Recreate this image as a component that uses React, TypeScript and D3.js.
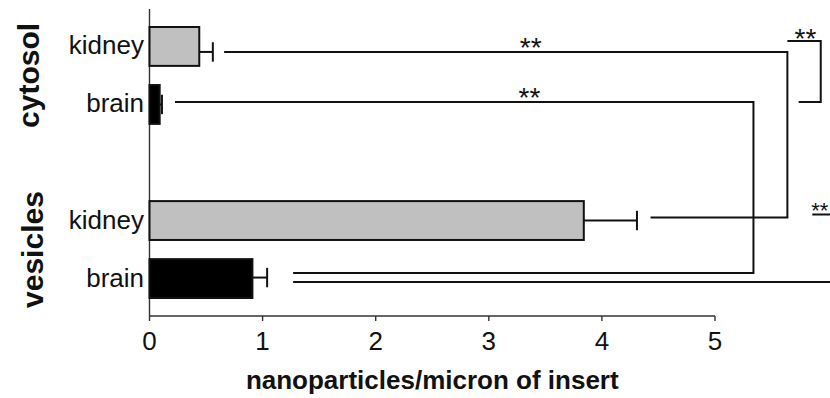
import * as d3 from 'd3';

// Data
const barKeys = ['cytosol-kidney', 'cytosol-brain', 'gap', 'vesicles-kidney', 'vesicles-brain'];
const barTissue = ['kidney', 'brain', 'kidney', 'brain'];
const barGroup = ['cytosol', 'cytosol', 'vesicles', 'vesicles'];
const means = [0.44, 0.09, 3.84, 0.91];
const errors = [0.12, 0.02, 0.47, 0.13];
const groups = ['cytosol', 'vesicles'];
const tickValues = [0, 1, 2, 3, 4, 5];
const xTitle = 'nanoparticles/micron of insert';

// significance connectors, x in axis units
const links = [
  { from: 'cytosol-kidney', to: 'vesicles-kidney', x0: 0.66, x1: 4.43, xr: 5.64, star: 3.37 },
  { from: 'cytosol-brain', to: 'vesicles-brain', x0: 0.225, x1: 1.27, xr: 5.34, star: 3.36 },
];

const W = 830;
const H = 398;
const FONT = '"Liberation Sans", Arial, Helvetica, sans-serif';
const INK = '#111';

export default function App() {
  const x = d3.scaleLinear().domain([0, 5]).range([149.5, 715]);
  const y = d3.scaleBand<string>().domain(barKeys).range([27, 298]).paddingInner(0.33).paddingOuter(0);
  const bh = y.bandwidth();
  const realKeys = barKeys.filter(k => k !== 'gap');
  const cy = (k: string) => (y(k) as number) + bh / 2;

  // small vertical offsets of the connector lines from bar centres
  const lineOff: Record<string, number> = {
    'cytosol-kidney': 5.5,
    'cytosol-brain': -2.5,
    'vesicles-kidney': -3,
    'vesicles-brain': -5.5,
  };
  const errOff = [5.5, 0, 0, -1];
  const ly = (k: string) => cy(k) + lineOff[k];

  const axisY = 316;
  const xEnd = 6.3;

  const bracketTop = ly('cytosol-kidney') - 11;
  const bracketBottom = ly('cytosol-brain');
  const lowTop = ly('vesicles-kidney') - 3;
  const longY = cy('vesicles-brain') + 3.5;

  return (
    <svg width={W} height={H} style={{ position: 'absolute', left: 0, top: 0, background: '#fff' }} fontFamily={FONT}>
      {/* axes */}
      <line x1={x(0)} x2={x(0)} y1={9} y2={axisY} stroke="#333" strokeWidth={1.4} />
      <line x1={x(0)} x2={x(5)} y1={axisY} y2={axisY} stroke="#333" strokeWidth={1.4} />
      {tickValues.map(t => (
        <g key={t}>
          <line x1={x(t)} x2={x(t)} y1={axisY} y2={axisY + 5} stroke="#333" strokeWidth={1.4} />
          <text x={x(t)} y={350} textAnchor="middle" fontSize={26} fill={INK}>{t}</text>
        </g>
      ))}
      <text x={(x(0) + x(5)) / 2} y={389} textAnchor="middle" fontSize={26} fontWeight="bold" fill={INK}>
        {xTitle}
      </text>

      {/* bars */}
      {realKeys.map((k, i) => {
        const kidney = barTissue[i] === 'kidney';
        const top = y(k) as number;
        const ey = cy(k) + errOff[i];
        const xe = x(means[i] + errors[i]);
        return (
          <g key={k}>
            <line x1={x(means[i])} x2={xe} y1={ey} y2={ey} stroke={INK} strokeWidth={2} />
            <line x1={xe} x2={xe} y1={ey - bh / 4} y2={ey + bh / 4} stroke={INK} strokeWidth={2} />
            <rect
              x={x(0)}
              y={top}
              width={x(means[i]) - x(0)}
              height={bh}
              fill={kidney ? '#c0c0c0' : '#000'}
              stroke={INK}
              strokeWidth={2}
            />
            <text x={144} y={cy(k) + 8} textAnchor="end" fontSize={26} fill={INK}>{barTissue[i]}</text>
          </g>
        );
      })}

      {/* group labels */}
      {groups.map(g => {
        const ks = realKeys.filter((_, i) => barGroup[i] === g);
        const mid = ((y(ks[0]) as number) + (y(ks[ks.length - 1]) as number) + bh) / 2;
        const bx = g === 'cytosol' ? 39 : 43;
        return (
          <text key={g} transform={`translate(${bx},${mid}) rotate(-90)`} textAnchor="middle" fontSize={30} fontWeight="bold" fill={INK}>
            {g}
          </text>
        );
      })}

      {/* significance connectors */}
      {links.map(l => {
        const y0 = ly(l.from);
        const y1 = ly(l.to);
        return (
          <g key={l.from}>
            <path
              d={`M${x(l.x0)},${y0}H${x(l.xr)}V${y1}H${x(l.x1)}`}
              fill="none"
              stroke={INK}
              strokeWidth={2}
            />
            <text x={x(l.star)} y={y0 + 5} textAnchor="middle" fontSize={28} fill={INK}>**</text>
          </g>
        );
      })}
      <line x1={x(1.27)} x2={x(xEnd)} y1={longY} y2={longY} stroke={INK} strokeWidth={2} />

      {/* bracket between cytosol comparisons */}
      <path
        d={`M${x(5.64)},${bracketTop}H${x(5.935)}V${bracketBottom}H${x(5.74)}`}
        fill="none"
        stroke={INK}
        strokeWidth={2}
      />
      <text x={x(5.80)} y={bracketTop + 7} textAnchor="middle" fontSize={28} fill={INK}>**</text>

      {/* bracket between vesicle comparisons (runs off the right edge) */}
      <line x1={x(5.86)} x2={x(xEnd)} y1={lowTop} y2={lowTop} stroke={INK} strokeWidth={2} />
      <text x={x(5.85)} y={lowTop + 3} textAnchor="start" fontSize={22} fill={INK}>**</text>
    </svg>
  );
}
